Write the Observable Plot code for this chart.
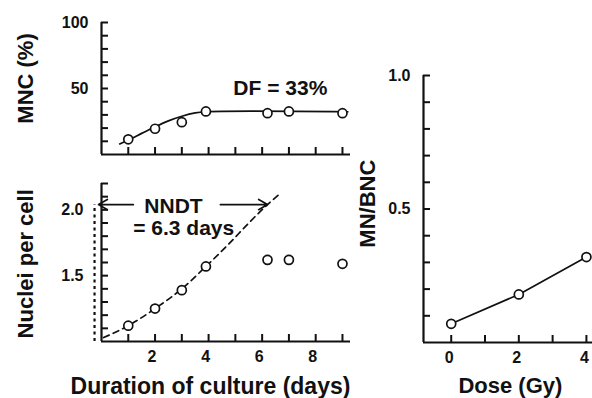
<!DOCTYPE html>
<html><head><meta charset="utf-8">
<script src="https://cdn.jsdelivr.net/npm/d3@7"></script>
<script src="https://cdn.jsdelivr.net/npm/@observablehq/plot@0.6"></script>
<style>
html,body{margin:0;padding:0;background:#fff;}
#c{position:relative;width:592px;height:398px;overflow:hidden;}
#c svg{position:absolute;left:0;top:0;pointer-events:none;}
</style></head><body><div id="c"></div>
<script>
// ---- data ----
const days = [1, 2, 3, 3.9, 6.2, 7, 9];
const mncPct = [11.5, 19.5, 24.5, 32.6, 31.3, 32.6, 31.3];
const mncFitDays = [0.68, 1, 1.5, 2, 2.5, 3, 3.5, 3.9, 9.2];
const mncFitPct = [8, 11, 16, 21, 25.5, 29, 31.5, 32.4, 32.4];
const nucleiPerCell = [1.12, 1.25, 1.39, 1.57, 1.62, 1.62, 1.59];
const nndtFitDays = [0.08, 1, 2, 3, 3.9, 4.75, 5.5, 6.2, 6.65];
const nndtFitNuclei = [1.03, 1.12, 1.25, 1.40, 1.57, 1.74, 1.90, 2.04, 2.12];
const doseGy = [0, 2, 4];
const mnPerBnc = [0.07, 0.18, 0.32];
const mncTicks = [10, 20, 30, 40, 50, 60, 70, 80, 90, 100];
const mncLabels = [50, 100];
const nucleiTicks = [1.1, 1.2, 1.3, 1.4, 1.5, 1.6, 1.7, 1.8, 1.9, 2.0, 2.1, 2.2];
const nucleiLabels = [1.5, 2.0];
const dayTicks = [1, 2, 3, 4, 5, 6, 7, 8, 9];
const dayLabels = [2, 4, 6, 8];
const mnTicks = [0.1, 0.2, 0.3, 0.4, 0.5, 0.6, 0.7, 0.8, 0.9, 1.0];
const mnLabels = [0.5, 1.0];
const doseTicks = [0, 1, 2, 3, 4];
const doseLabels = [0, 2, 4];
const dfNote = "DF = 33%";
const nndtNote = ["NNDT", "= 6.3 days"];
const nndtLevel = 2.04;
const nndtStart = -0.26;

const W = 592, H = 398;
const INK = "#111";
const TICK = 7;
const style = {background: "transparent", fontFamily: "'Liberation Sans', Arial, Helvetica, sans-serif", fontWeight: "bold", color: INK, overflow: "visible"};
const dotOpts = {r: 4.5, fill: "white", stroke: INK, strokeWidth: 1.7};
const textOpts = {text: d => d, fontWeight: "bold", fill: INK};
const c = document.getElementById("c");
const fmt1 = d => d.toFixed(1);
const fmt0 = d => String(d);
const blank = () => "";

// inward ticks: normal outward axis ticks shifted across the axis line
function inwardTicks(xt, yt) {
  return [
    Plot.axisY({ticks: yt, tickSize: TICK, dx: TICK, tickFormat: blank, label: null, stroke: INK, strokeWidth: 2}),
    Plot.axisX({ticks: xt, tickSize: TICK, dy: -TICK, tickFormat: blank, label: null, stroke: INK, strokeWidth: 2})
  ];
}

// ---- top panel: MNC (%) ----
const topRows = days.map((d, i) => ({d, v: mncPct[i]}));
const topFit = mncFitDays.map((d, i) => ({d, v: mncFitPct[i]}));
c.append(Plot.plot({
  width: W, height: H, style,
  marginLeft: 101, marginRight: 242, marginTop: 22, marginBottom: 244,
  x: {domain: [0, 9.3], label: null}, y: {domain: [0, 100], label: null},
  marks: [
    ...inwardTicks(dayTicks, mncTicks),
    Plot.axisY({ticks: mncLabels, tickSize: 0, tickPadding: 13, fontSize: 16, label: null, tickFormat: fmt0}),
    Plot.ruleX([0], {stroke: INK, strokeWidth: 2.2}),
    Plot.ruleY([0], {stroke: INK, strokeWidth: 2.2}),
    Plot.line(topFit, {x: "d", y: "v", curve: "catmull-rom", stroke: INK, strokeWidth: 1.7}),
    Plot.dot(topRows, {x: "d", y: "v", ...dotOpts}),
    Plot.text([dfNote], {x: 6.68, y: 50, fontSize: 21, ...textOpts}),
    Plot.text(["MNC (%)"], {x: -2.84, y: 57.6, rotate: -90, fontSize: 22, ...textOpts})
  ]
}));

// ---- bottom panel: Nuclei per cell ----
const botRows = days.map((d, i) => ({d, v: nucleiPerCell[i]}));
const botFit = nndtFitDays.map((d, i) => ({d, v: nndtFitNuclei[i]}));
c.append(Plot.plot({
  width: W, height: H, style,
  marginLeft: 101, marginRight: 242, marginTop: 183, marginBottom: 57,
  x: {domain: [0, 9.3], label: null}, y: {domain: [1.0, 2.2], label: null},
  marks: [
    ...inwardTicks(dayTicks, nucleiTicks),
    Plot.axisY({ticks: nucleiLabels, tickSize: 0, tickPadding: 18, fontSize: 16, label: null, tickFormat: fmt1}),
    Plot.axisX({ticks: dayLabels, tickSize: 0, tickPadding: 9, fontSize: 16, label: null, dx: -3, tickFormat: fmt0}),
    Plot.ruleX([0], {stroke: INK, strokeWidth: 2.2}),
    Plot.ruleY([1.0], {stroke: INK, strokeWidth: 2.2}),
    Plot.ruleX([nndtStart], {y1: 1.0, y2: nndtLevel, stroke: INK, strokeWidth: 2.2, strokeDasharray: "3,3.5"}),
    Plot.arrow([{x1: 1.19, x2: -0.11}, {x1: 4.44, x2: 6.2}], {x1: "x1", x2: "x2", y1: nndtLevel, y2: nndtLevel,
      stroke: INK, strokeWidth: 1.7, headLength: 9}),
    Plot.line(botFit, {x: "d", y: "v", curve: "monotone-x", stroke: INK, strokeWidth: 1.7, strokeDasharray: "6,4.5"}),
    Plot.dot(botRows, {x: "d", y: "v", ...dotOpts}),
    Plot.text([nndtNote[0]], {x: 2.69, y: 2.025, fontSize: 21, ...textOpts}),
    Plot.text([nndtNote[1]], {x: 3.07, y: 1.86, fontSize: 21, ...textOpts}),
    Plot.text(["Nuclei per cell"], {x: -2.84, y: 1.59, rotate: -90, fontSize: 22, ...textOpts}),
    Plot.text(["Duration of culture (days)"], {x: 4.07, y: 0.655, fontSize: 23, ...textOpts})
  ]
}));

// ---- right panel: MN/BNC vs dose ----
const doseRows = doseGy.map((d, i) => ({d, v: mnPerBnc[i]}));
c.append(Plot.plot({
  width: W, height: H, style,
  marginLeft: 423, marginRight: 0, marginTop: 75, marginBottom: 56,
  x: {domain: [-0.82, 4.18], label: null}, y: {domain: [0, 1], label: null},
  marks: [
    ...inwardTicks(doseTicks, mnTicks),
    Plot.axisY({ticks: mnLabels, tickSize: 0, tickPadding: 13, fontSize: 16, label: null, tickFormat: fmt1}),
    Plot.axisX({ticks: doseLabels, tickSize: 0, tickPadding: 9, fontSize: 16, label: null, dx: -2, tickFormat: fmt0}),
    Plot.ruleX([-0.82], {stroke: INK, strokeWidth: 2.2}),
    Plot.ruleY([0], {stroke: INK, strokeWidth: 2.2}),
    Plot.line(doseRows, {x: "d", y: "v", stroke: INK, strokeWidth: 1.7}),
    Plot.dot(doseRows, {x: "d", y: "v", ...dotOpts}),
    Plot.text(["MN/BNC"], {x: -2.45, y: 0.52, rotate: -90, fontSize: 22, ...textOpts}),
    Plot.text(["Dose (Gy)"], {x: 1.75, y: -0.161, fontSize: 22, ...textOpts})
  ]
}));
</script></body></html>
